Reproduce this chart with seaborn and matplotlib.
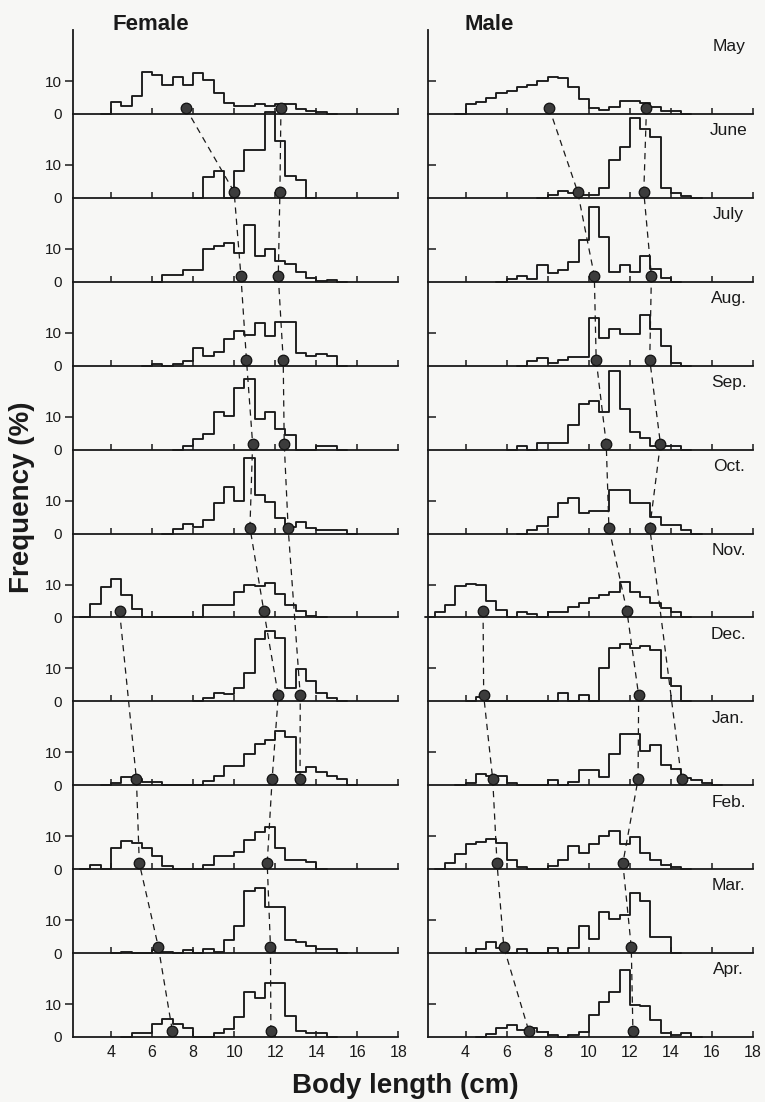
import numpy as np
import pandas as pd
import seaborn as sns
import matplotlib.pyplot as plt

months = ['May', 'June', 'July', 'Aug.', 'Sep.', 'Oct.',
          'Nov.', 'Dec.', 'Jan.', 'Feb.', 'Mar.', 'Apr.']

# Frequencies (%) per 0.5 cm class, starting at the given body length (cm)
female_start = [4.0, 8.5, 6.5, 6.0, 7.5, 7.0, 3.0, 8.5, 4.0, 3.0, 4.5, 5.0]
female_may = [3.5, 2.5, 5.3, 12.8, 11.8, 8.8, 11.3, 8.8, 12.3, 10.3, 6.3, 3.3,
              2.5, 2.5, 3.0, 2.5, 3.0, 3.0, 1.5, 0.8, 0.5]
female_june = [6.4, 8.3, 0, 8.3, 14.4, 14.4, 26.0, 17.4, 6.7, 5.4]
female_july = [2.0, 2.0, 3.7, 3.7, 10.0, 10.8, 11.8, 8.8, 17.2, 7.8, 9.8, 6.4,
               5.4, 3.1, 1.0, 0.3, 0.5]
female_aug = [0.5, 0, 0.5, 1.3, 5.3, 2.8, 4.3, 8.0, 10.6, 9.3, 13.1, 9.0,
              13.3, 13.3, 4.0, 3.0, 3.6, 3.0]
female_sep = [1.0, 3.1, 4.8, 11.5, 10.1, 18.8, 21.6, 9.3, 11.5, 6.2, 4.3, 0,
              0, 1.0, 1.0]
female_oct = [1.4, 3.0, 1.9, 4.1, 9.3, 14.1, 10.0, 22.9, 11.7, 9.7, 4.8, 1.9,
              3.6, 1.7, 1.1, 1.1, 1.1]
female_nov = [4.2, 9.3, 11.8, 6.9, 2.6, 0, 0, 0, 0, 0, 0, 3.9, 3.9, 3.9, 7.8,
              10.0, 9.6, 10.6, 7.1, 3.7, 1.8, 0.5]
female_dec = [1.0, 2.5, 2.2, 4.2, 8.5, 19.0, 21.5, 19.2, 4.2, 9.7, 6.1, 2.5, 1.0]
female_jan = [0.8, 2.6, 2.0, 1.0, 1.0, 0, 0, 0, 0, 1.2, 2.7, 5.9, 5.9, 9.6,
              12.5, 13.9, 16.4, 14.7, 4.1, 5.4, 4.1, 2.7, 1.8]
female_feb = [1.4, 0, 6.4, 8.5, 8.0, 6.5, 3.9, 1.1, 0, 0, 0, 1.4, 4.0, 4.0,
              5.3, 8.8, 11.3, 12.7, 6.5, 2.9, 2.9, 2.1]
female_mar = [0.3, 0, 0, 1.0, 0.4, 0, 1.0, 0, 1.2, 0.4, 3.9, 8.1, 18.9, 19.9,
              14.1, 14.1, 4.1, 3.4, 2.3, 1.3, 1.3]
female_apr = [1.2, 1.2, 4.1, 5.6, 4.1, 2.7, 0, 0, 1.2, 2.4, 6.1, 13.6, 11.7,
              16.3, 16.3, 6.3, 1.9, 1.2, 1.2]

male_start = [4.0, 8.0, 6.0, 7.0, 6.5, 7.0, 2.5, 4.5, 4.0, 3.0, 4.5, 5.0]
male_may = [2.9, 3.5, 4.9, 6.4, 7.1, 8.1, 8.7, 10.0, 11.3, 11.0, 8.1, 4.5,
            1.7, 1.3, 2.2, 3.9, 3.9, 3.2, 2.2, 1.0, 0.8]
male_june = [0.8, 2.1, 1.5, 1.0, 1.0, 3.1, 11.5, 15.5, 24.3, 20.9, 18.6, 3.1,
             1.5, 0.5]
male_july = [0.7, 1.6, 0.7, 5.0, 2.6, 3.5, 6.0, 12.7, 22.8, 13.5, 3.1, 5.0,
             3.1, 7.7, 4.0, 1.0]
male_aug = [1.5, 2.2, 0.8, 1.7, 2.7, 2.7, 14.4, 8.5, 11.1, 9.5, 9.5, 15.5,
            11.1, 6.1, 0.8]
male_sep = [1.1, 0, 1.9, 1.9, 1.9, 7.6, 13.8, 14.8, 11.4, 23.8, 12.4, 5.2,
            3.6, 1.1, 1.1, 1.1]
male_oct = [1.0, 2.2, 4.9, 9.3, 10.8, 6.1, 6.9, 6.9, 13.2, 13.2, 9.3, 9.3,
            4.9, 2.5, 2.5, 1.0]
male_nov = [1.7, 3.9, 9.5, 10.3, 10.0, 4.9, 2.2, 0, 1.6, 1.0, 0, 1.7, 1.7,
            3.2, 4.5, 5.8, 6.8, 7.8, 10.7, 7.8, 6.1, 4.5, 2.9, 1.7]
male_dec = [1.3, 0, 0, 0, 0, 0, 0, 0, 2.6, 0, 1.9, 0, 10.2, 16.2, 17.5, 16.2,
            16.7, 15.5, 7.1, 4.7]
male_jan = [0.7, 3.5, 2.7, 2.7, 0.7, 0, 0, 0, 1.7, 0, 1.0, 4.5, 4.5, 2.5, 9.5,
            15.7, 15.7, 10.5, 12.3, 6.3, 5.0, 2.3, 1.7, 0.7]
male_feb = [2.0, 4.7, 7.5, 8.3, 9.3, 8.0, 2.7, 0.7, 0, 0, 1.0, 2.7, 7.0, 5.0,
            7.5, 10.0, 11.7, 7.5, 9.7, 5.0, 2.7, 1.3, 0.7]
male_mar = [1.3, 3.3, 1.5, 0, 1.3, 0, 0, 1.5, 0, 1.5, 8.3, 4.3, 12.5, 10.5,
            11.5, 18.3, 15.8, 4.8, 4.8]
male_apr = [1.0, 2.6, 3.6, 2.2, 2.6, 1.5, 0.5, 0, 0.5, 1.5, 6.6, 10.7, 13.8,
            20.4, 9.7, 9.4, 5.1, 1.2, 0.5, 1.2]

female_freq = [female_may, female_june, female_july, female_aug, female_sep,
               female_oct, female_nov, female_dec, female_jan, female_feb,
               female_mar, female_apr]
male_freq = [male_may, male_june, male_july, male_aug, male_sep, male_oct,
             male_nov, male_dec, male_jan, male_feb, male_mar, male_apr]

# Mean body length of each group (month index, cm), joined by dashed lines
female_a_month = [0, 1, 2, 3, 4, 5, 7, 8]
female_a_mean = [12.28, 12.23, 12.15, 12.39, 12.44, 12.63, 13.22, 13.21]
female_b_month = [0, 1, 2, 3, 4, 5, 6, 7, 8, 9, 10, 11]
female_b_mean = [7.64, 10.0, 10.33, 10.6, 10.9, 10.77, 11.45, 12.15, 11.85,
                 11.61, 11.77, 11.79]
female_c_month = [6, 8, 9, 10, 11]
female_c_mean = [4.42, 5.24, 5.38, 6.31, 6.99]

male_a_month = [0, 1, 2, 3, 4, 5, 8]
male_a_mean = [12.81, 12.68, 13.05, 12.97, 13.49, 12.97, 14.52]
male_b_month = [0, 1, 2, 3, 4, 5, 6, 7, 8, 9, 10, 11]
male_b_mean = [8.07, 9.46, 10.27, 10.36, 10.85, 10.98, 11.86, 12.43, 12.40,
               11.66, 12.07, 12.15]
male_c_month = [6, 7, 8, 9, 10, 11]
male_c_mean = [4.85, 4.88, 5.32, 5.53, 5.86, 7.08]

INK = '#1a1a1a'
BG = '#f7f7f5'
XMIN, XMAX = 2.15, 18.0
YMAX = 25.5
DOT_Y = 1.8

sns.set_style('ticks')
plt.rcParams['font.family'] = ['Liberation Sans', 'DejaVu Sans']
plt.rcParams['axes.edgecolor'] = INK
plt.rcParams['xtick.color'] = INK
plt.rcParams['ytick.color'] = INK
plt.rcParams['text.color'] = INK

fig, axes = plt.subplots(12, 2, figsize=(7.65, 11.02), dpi=100)
fig.patch.set_facecolor(BG)
fig.subplots_adjust(left=73 / 765, right=753 / 765, bottom=1 - 1037 / 1102,
                    top=1 - 30 / 1102, hspace=0, wspace=0.09)


def draw_hist(ax, start, freq):
    # one empty class on each side so the outline drops to the baseline
    hist = pd.DataFrame({'freq': np.r_[0, freq, 0]})
    hist['length'] = start - 0.25 + 0.5 * np.arange(len(hist))
    sns.histplot(data=hist, x='length', weights='freq', binwidth=0.5,
                 binrange=(start - 0.5, start + 0.5 * (len(hist) - 1)),
                 element='step', fill=False, color=INK, lw=1.35,
                 clip_on=False, ax=ax)


for col, (starts, freqs) in enumerate([(female_start, female_freq),
                                       (male_start, male_freq)]):
    for row in range(12):
        ax = axes[row, col]
        ax.set_facecolor('none')
        draw_hist(ax, starts[row], freqs[row])
        ax.set_xlim(XMIN, XMAX)
        ax.set_ylim(0, YMAX)
        ax.set_xlabel('')
        ax.set_ylabel('')
        sns.despine(ax=ax)
        for side in ['left', 'bottom']:
            ax.spines[side].set_linewidth(1.3)
        ax.set_xticks(range(4, 19, 2))
        ax.tick_params(axis='x', direction='in', length=4, width=1.1,
                       labelsize=11.5, pad=6, labelbottom=(row == 11))
        if col == 0:
            ax.set_yticks([0, 10])
            ax.tick_params(axis='y', direction='out', length=6, width=1.1,
                           labelsize=11, pad=2)
            ax.yaxis.get_major_ticks()[0].tick1line.set_visible(False)
        else:
            ax.set_yticks([10])
            ax.tick_params(axis='y', direction='in', length=6, width=1.1,
                           labelleft=False)
            ax.text(0.925, 0.80, months[row], transform=ax.transAxes,
                    ha='center', va='center', fontsize=12.5)

# dashed lines and mean dots drawn on one transparent layer per column
groups = [
    [(female_a_month, female_a_mean), (female_b_month, female_b_mean),
     (female_c_month, female_c_mean)],
    [(male_a_month, male_a_mean), (male_b_month, male_b_mean),
     (male_c_month, male_c_mean)],
]
for col in range(2):
    top = axes[0, col].get_position()
    bot = axes[-1, col].get_position()
    ov = fig.add_axes([bot.x0, bot.y0, bot.width, top.y1 - bot.y0])
    for month_idx, mean in groups[col]:
        df = pd.DataFrame({'length': mean, 'month': month_idx})
        df['y'] = (11 - df['month']) * YMAX + DOT_Y
        sns.lineplot(data=df, x='length', y='y', sort=False, estimator=None,
                     color=INK, lw=0.9, linestyle=(0, (5, 4)), ax=ov)
        sns.scatterplot(data=df, x='length', y='y', s=58, color='#3c3c3c',
                        edgecolor='#111111', linewidth=0.9, zorder=5, ax=ov)
    ov.set_xlim(XMIN, XMAX)
    ov.set_ylim(0, 12 * YMAX)
    ov.axis('off')

fig.text(112 / 765, 1 - 25 / 1102, 'Female', ha='left', va='center',
         fontsize=16, fontweight='bold')
fig.text(465 / 765, 1 - 25 / 1102, 'Male', ha='left', va='center',
         fontsize=16, fontweight='bold')
fig.text(22 / 765, 1 - 497 / 1102, 'Frequency (%)', rotation=90,
         ha='center', va='center', fontsize=20, fontweight='bold')
fig.text(405 / 765, 1 - 1093 / 1102, 'Body length (cm)', ha='center',
         va='baseline', fontsize=20, fontweight='bold')

fig.savefig('out.png', dpi=100, facecolor=BG)
